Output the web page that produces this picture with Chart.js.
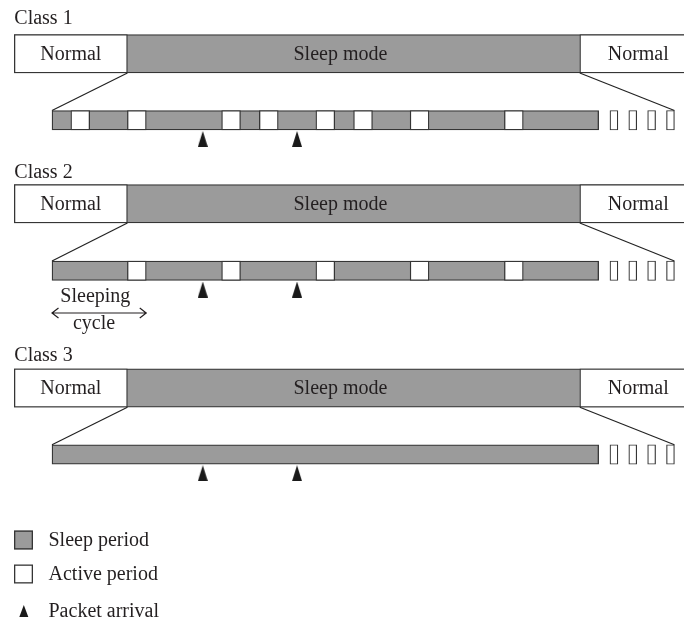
<!DOCTYPE html>
<html>
<head>
<title>Sleep mode classes</title>
<script src="https://cdn.jsdelivr.net/npm/chart.js@4.4.0/dist/chart.umd.min.js"></script>
<style>
    body {
        margin: 0;
        background-color: #ffffff;
    }
    #wrap {
        width: 684px;
        height: 622px;
    }
</style>
</head>
<body>
<div id="wrap"><canvas id="diagram" width="684" height="622"></canvas></div>
<script>
// x runs in slot units (one slot = one active period), 0 = start of the zoomed cycle
const classes = ['Class 1', 'Class 2', 'Class 3'];
const normalSpans = [[-2, 4], [28, 34.2]];
const sleepModeSpan = [4, 28];
const cycleSpan = [0, 29];
const activeSlots = [
    [1, 4, 9, 11, 14, 16, 19, 24],
    [4, 9, 14, 19, 24],
    []
];
const packetArrivals = [8, 13];
const trailingSlots = [29.6, 30.6, 31.6, 32.6];
const legendLabels = ['Sleep period', 'Active period', 'Packet arrival'];

// layout (pixels on the y scale)
const SLOT_PX = 18.85, ORIGIN_PX = 52;
const rowTop = [53.75, 203.75, 388];
const rowDetail = [120.25, 270.75, 454.5];
const titleBase = [23.5, 177.5, 360.5];
const TOP_H = 38.5, DETAIL_H = 19.5, TRAIL_W = 0.42;
const SLEEP_LABEL_AT = 15.3;
const gray = '#9b9b9b', edge = '#353535', ink = '#231f20';
const font = '20px "Liberation Serif", "DejaVu Serif", serif';

function makeTriangle(w, h) {
    const c = document.createElement('canvas');
    c.width = w; c.height = h;
    const g = c.getContext('2d');
    g.fillStyle = '#1a1a1a';
    g.beginPath();
    g.moveTo(w / 2, 0);
    g.lineTo(w, h);
    g.lineTo(0, h);
    g.closePath();
    g.fill();
    return c;
}
const arrowImg = makeTriangle(10, 16);

const barBase = {
    type: 'bar', indexAxis: 'y', grouped: false, borderSkipped: false,
    borderWidth: 1.3, borderColor: edge, xAxisID: 'x', yAxisID: 'y'
};

const overviewSleep = classes.map((c, i) => ({ x: [normalSpans[0][0], normalSpans[1][1]], y: rowTop[i] }));
const overviewNormal = [];
classes.forEach((c, i) => normalSpans.forEach(s => overviewNormal.push({ x: s, y: rowTop[i] })));
const detailSleep = classes.map((c, i) => ({ x: cycleSpan, y: rowDetail[i] }));
const detailActive = [];
activeSlots.forEach((slots, i) => slots.forEach(s => detailActive.push({ x: [s, s + 1], y: rowDetail[i] })));
const trailing = [];
classes.forEach((c, i) => trailingSlots.forEach(s => trailing.push({ x: [s, s + TRAIL_W], y: rowDetail[i] })));
const arrivals = [];
classes.forEach((c, i) => packetArrivals.forEach(t => arrivals.push({ x: t, y: rowDetail[i] + DETAIL_H / 2 + 9 })));

const lastSlotEnd = trailingSlots[trailingSlots.length - 1] + TRAIL_W;
const zoomLines = [];
classes.forEach((c, i) => {
    zoomLines.push([{ x: sleepModeSpan[0], y: rowTop[i] + TOP_H / 2 }, { x: cycleSpan[0], y: rowDetail[i] - DETAIL_H / 2 }]);
    zoomLines.push([{ x: sleepModeSpan[1], y: rowTop[i] + TOP_H / 2 }, { x: lastSlotEnd, y: rowDetail[i] - DETAIL_H / 2 }]);
});

const datasets = [
    Object.assign({}, barBase, { label: 'mode', data: overviewSleep, backgroundColor: gray, barThickness: TOP_H, order: 6 }),
    Object.assign({}, barBase, { label: 'normal', data: overviewNormal, backgroundColor: '#ffffff', barThickness: TOP_H, order: 5 }),
    Object.assign({}, barBase, { label: 'Sleep period', data: detailSleep, backgroundColor: gray, barThickness: DETAIL_H, order: 4 }),
    Object.assign({}, barBase, { label: 'Active period', data: detailActive, backgroundColor: '#ffffff', barThickness: DETAIL_H, order: 3 }),
    Object.assign({}, barBase, { label: 'trailing', data: trailing, backgroundColor: '#ffffff', barThickness: DETAIL_H, borderWidth: 1.2, order: 3 }),
    {
        type: 'scatter', indexAxis: 'x', label: 'Packet arrival', data: arrivals,
        pointStyle: arrowImg, pointRadius: 5, order: 1, xAxisID: 'x', yAxisID: 'y'
    }
];
zoomLines.forEach(pts => datasets.push({
    type: 'scatter', indexAxis: 'x', data: pts, showLine: true,
    borderColor: '#222222', borderWidth: 1.2, pointRadius: 0, order: 2, xAxisID: 'x', yAxisID: 'y'
}));

const textPlugin = {
    id: 'diagramText',
    afterDatasetsDraw(chart) {
        const ctx = chart.ctx;
        const x = chart.scales.x, y = chart.scales.y;
        ctx.save();
        ctx.font = font;
        ctx.fillStyle = ink;
        ctx.textBaseline = 'alphabetic';

        // class titles
        ctx.textAlign = 'left';
        classes.forEach((name, i) => ctx.fillText(name, x.getPixelForValue(normalSpans[0][0]), y.getPixelForValue(titleBase[i])));

        // labels inside the overview boxes
        ctx.textAlign = 'center';
        chart.getDatasetMeta(1).data.forEach(el => {
            const p = el.getCenterPoint();
            ctx.fillText('Normal', p.x, p.y + 6);
        });
        rowTop.forEach(r => ctx.fillText('Sleep mode', x.getPixelForValue(SLEEP_LABEL_AT), y.getPixelForValue(r) + 6));

        // sleeping cycle annotation under class 2
        const ay = y.getPixelForValue(313);
        const ax0 = x.getPixelForValue(activeSlots[1][0] - 4), ax1 = x.getPixelForValue(activeSlots[1][0] + 1);
        ctx.fillText('Sleeping', x.getPixelForValue(2.3), y.getPixelForValue(301.5));
        ctx.fillText('cycle', x.getPixelForValue(2.23), y.getPixelForValue(329));
        ctx.strokeStyle = ink;
        ctx.lineWidth = 1.2;
        ctx.beginPath();
        ctx.moveTo(ax0, ay); ctx.lineTo(ax1, ay);
        ctx.moveTo(ax0 + 6.5, ay - 5); ctx.lineTo(ax0, ay); ctx.lineTo(ax0 + 6.5, ay + 5);
        ctx.moveTo(ax1 - 6.5, ay - 5); ctx.lineTo(ax1, ay); ctx.lineTo(ax1 - 6.5, ay + 5);
        ctx.stroke();

        // legend
        const lx = 14, ly = [540, 574, 611];
        ctx.lineWidth = 1.3;
        ctx.strokeStyle = edge;
        ctx.fillStyle = gray;
        ctx.fillRect(lx, ly[0] - 9.5, 19, 19);
        ctx.strokeRect(lx + 0.65, ly[0] - 8.85, 17.7, 17.7);
        ctx.fillStyle = '#ffffff';
        ctx.fillRect(lx, ly[1] - 9.5, 19, 19);
        ctx.strokeRect(lx + 0.65, ly[1] - 8.85, 17.7, 17.7);
        ctx.fillStyle = '#1a1a1a';
        ctx.beginPath();
        ctx.moveTo(lx + 9.8, ly[2] - 6);
        ctx.lineTo(lx + 14.3, ly[2] + 6);
        ctx.lineTo(lx + 5.3, ly[2] + 6);
        ctx.closePath();
        ctx.fill();
        ctx.fillStyle = ink;
        ctx.textAlign = 'left';
        legendLabels.forEach((t, i) => ctx.fillText(t, 48.5, ly[i] + 6));
        ctx.restore();
    }
};

new Chart(document.getElementById('diagram'), {
    type: 'bar',
    data: { datasets: datasets },
    options: {
        indexAxis: 'y',
        responsive: false,
        animation: false,
        events: [],
        layout: { padding: 0, autoPadding: false },
        plugins: { legend: { display: false }, tooltip: { enabled: false } },
        scales: {
            x: { type: 'linear', display: false, offset: false, min: -ORIGIN_PX / SLOT_PX, max: (684 - ORIGIN_PX) / SLOT_PX },
            y: { type: 'linear', display: false, offset: false, reverse: true, min: 0, max: 622 }
        }
    },
    plugins: [textPlugin]
});
</script>
</body>
</html>
